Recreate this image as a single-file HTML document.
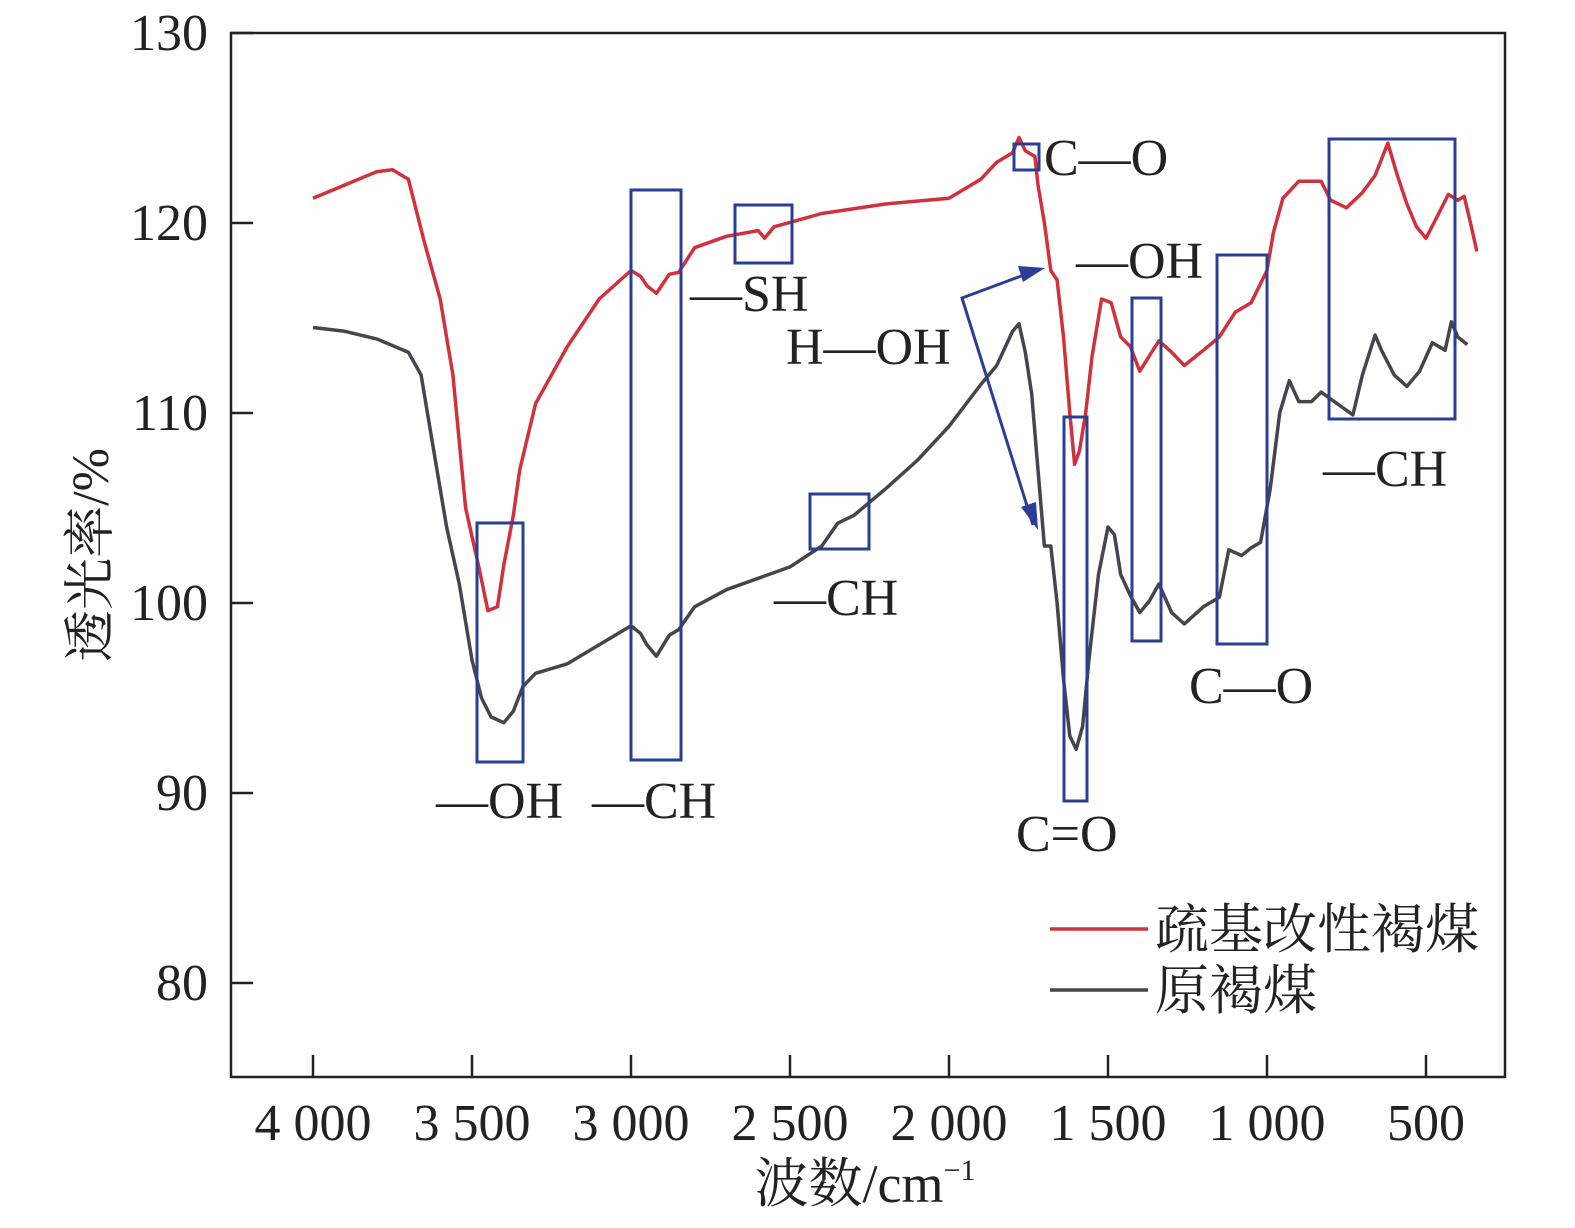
<!DOCTYPE html>
<html><head><meta charset="utf-8"><style>
body{margin:0;background:#fff}
svg text{font-family:"Liberation Serif","Noto Serif CJK SC",serif;fill:#222}
</style></head><body>
<svg id="chart" width="1575" height="1223" xmlns="http://www.w3.org/2000/svg">
<rect x="231" y="33" width="1274" height="1044" fill="none" stroke="#222" stroke-width="2.5"/>
<g id="ticks"></g>
<g id="series"></g>
<g fill="none" stroke="#2a3f93" stroke-width="3">
<rect x="477" y="523" width="46" height="239"/><rect x="631" y="190" width="50" height="570"/>
<rect x="735" y="205" width="57" height="58"/><rect x="810" y="494" width="59" height="55"/>
<rect x="1014" y="144" width="25" height="26"/><rect x="1064" y="417" width="23" height="384"/>
<rect x="1132" y="298" width="29" height="343"/><rect x="1217" y="255" width="50" height="389"/>
<rect x="1329" y="139" width="126" height="280"/>
<polyline points="1040,269 962,298 1033,525"/>
</g>
<polygon points="1045,268 1018,266 1023,282" fill="#2a3f93"/>
<polygon points="1038,530 1021,507 1036,502" fill="#2a3f93"/>
<g font-size="52">
<text x="436" y="818">—OH</text><text x="592" y="818">—CH</text>
<text x="690" y="311">—SH</text><text x="774" y="615">—CH</text>
<text x="786" y="364">H—OH</text><text x="1044" y="175">C—O</text>
<text x="1076" y="278">—OH</text><text x="1016" y="851">C=O</text>
<text x="1189" y="703">C—O</text><text x="1323" y="486">—CH</text>
</g>
<line x1="1050" y1="929" x2="1148" y2="929" stroke="#d0313d" stroke-width="3.5"/>
<text x="1155" y="948" font-size="54">疏基改性褐煤</text>
<line x1="1050" y1="990" x2="1148" y2="990" stroke="#45454d" stroke-width="3.5"/>
<text x="1155" y="1009" font-size="54">原褐煤</text>
<text transform="translate(108,555) rotate(-90)" text-anchor="middle" font-size="52">透光率/%</text>
<text x="865" y="1202" text-anchor="middle" font-size="54">波数/cm<tspan font-size="30" dy="-22">−1</tspan></text>
</svg>
<script>
const xTicks=[4000,3500,3000,2500,2000,1500,1000,500];
const xTickLabels=["4 000","3 500","3 000","2 500","2 000","1 500","1 000","500"];
const yTicks=[80,90,100,110,120,130];
const waveRed=[4000,3900,3800,3750,3700,3650,3600,3560,3520,3480,3450,3420,3400,3370,3350,3300,3200,3100,3000,2970,2950,2920,2880,2850,2800,2700,2600,2580,2550,2400,2200,2000,1900,1850,1800,1780,1760,1730,1720,1700,1680,1660,1640,1620,1605,1590,1570,1550,1520,1490,1460,1430,1400,1370,1340,1300,1260,1200,1150,1100,1050,1000,980,950,900,830,800,750,700,660,620,590,560,530,500,460,430,400,380,360,340];
const transRed=[121.3,122,122.7,122.8,122.3,119,116,112,105,102,99.6,99.8,102,104.6,107,110.5,113.5,116,117.5,117.2,116.7,116.3,117.3,117.4,118.7,119.3,119.6,119.2,119.8,120.5,121,121.3,122.3,123.2,123.7,124.5,123.8,123.5,122,120,117.5,117,114,110,107.3,108,110,113,116,115.8,114,113.5,112.2,113,113.8,113.2,112.5,113.3,114,115.3,115.8,117.5,119.5,121.3,122.2,122.2,121.2,120.8,121.6,122.5,124.2,122.5,121,119.8,119.2,120.5,121.5,121.2,121.4,120,118.5];
const waveRaw=[4000,3900,3800,3700,3660,3620,3580,3540,3500,3470,3440,3400,3370,3340,3300,3200,3100,3000,2970,2950,2920,2880,2850,2800,2700,2600,2500,2400,2350,2300,2200,2100,2000,1900,1850,1800,1780,1760,1740,1720,1700,1680,1660,1640,1620,1600,1580,1560,1530,1500,1480,1460,1430,1400,1370,1340,1300,1260,1200,1150,1120,1080,1050,1020,990,960,930,900,860,830,780,730,700,660,640,600,560,520,480,440,420,400,370];
const transRaw=[114.5,114.3,113.9,113.2,112,108,104,101,97,95,94,93.7,94.3,95.6,96.3,96.8,97.8,98.8,98.4,97.8,97.2,98.3,98.6,99.8,100.7,101.3,101.9,103,104.2,104.6,106,107.5,109.3,111.5,112.5,114.3,114.7,113.2,111,107,103,103,100,96,93,92.3,93.5,97,101.5,104,103.6,101.5,100.4,99.5,100.1,101,99.5,98.9,99.8,100.3,102.8,102.5,102.9,103.2,106,110,111.7,110.6,110.6,111.1,110.5,109.9,112,114.1,113.3,112,111.4,112.2,113.7,113.3,114.8,114,113.6];
const X=w=>313+(4000-w)*0.318;
const Y=v=>983-(v-80)*19;
const NS="http://www.w3.org/2000/svg";
const tg=document.getElementById('ticks');
function mk(tag,at,parent){const e=document.createElementNS(NS,tag);for(const k in at)e.setAttribute(k,at[k]);parent.appendChild(e);return e;}
xTicks.forEach((w,i)=>{
 const l=mk('line',{x1:X(w),x2:X(w),y1:1055,y2:1077,stroke:'#222','stroke-width':2.5},tg);
 
 
 const t=mk('text',{x:X(w),y:1140,'text-anchor':'middle','font-size':52},tg);
 t.textContent=xTickLabels[i];
 
 
});
yTicks.forEach(v=>{
 const l=mk('line',{x1:231,x2:253,y1:Y(v),y2:Y(v),stroke:'#222','stroke-width':2.5},tg);
 
 
 const t=mk('text',{x:208,y:Y(v)+17,'text-anchor':'end','font-size':52},tg);
 t.textContent=v;
 
 
});
const sg=document.getElementById('series');
function line(ws,vs,col,name){
 const p=mk('polyline',{points:ws.map((w,i)=>X(w).toFixed(1)+','+Y(vs[i]).toFixed(1)).join(' '),fill:'none',stroke:col,'stroke-width':3.5,'stroke-linejoin':'round'},sg);
 
 
}
line(waveRaw,transRaw,'#45454d','series-raw-lignite');
line(waveRed,transRed,'#d0313d','series-modified-lignite');
</script>
</body></html>
